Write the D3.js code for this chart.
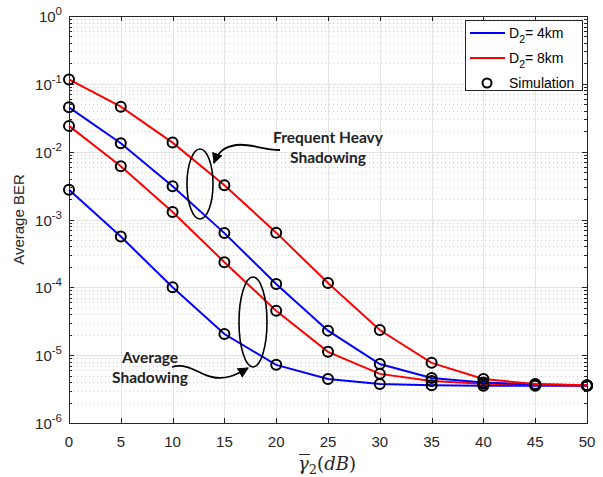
<!DOCTYPE html>
<html>
<head>
<meta charset="utf-8">
<script src="https://cdn.jsdelivr.net/npm/d3@7"></script>
<style>
  body { margin: 0; background: #fff; }
  svg { display: block; }
  .tick-lab { font-family: "Liberation Sans", Arial, sans-serif; font-size: 15px; fill: #262626; }
  .note { font-family: Lato, "Open Sans", sans-serif; font-weight: bold; font-size: 15.5px; fill: #222; }
</style>
</head>
<body>
<div id="vis"></div>
<script>
// data
var snr = [0, 5, 10, 15, 20, 25, 30, 35, 40, 45, 50];
var ber4Avg   = [2.75e-3, 5.6e-4, 1.0e-4, 2.05e-5, 7.2e-6, 4.45e-6, 3.75e-6, 3.6e-6, 3.55e-6, 3.55e-6, 3.55e-6];
var ber8Avg   = [2.4e-2, 6.1e-3, 1.29e-3, 2.35e-4, 4.5e-5, 1.12e-5, 5.3e-6, 4.15e-6, 3.8e-6, 3.65e-6, 3.55e-6];
var ber4Heavy = [4.5e-2, 1.33e-2, 3.1e-3, 6.3e-4, 1.12e-4, 2.3e-5, 7.4e-6, 4.6e-6, 3.95e-6, 3.7e-6, 3.6e-6];
var ber8Heavy = [1.16e-1, 4.6e-2, 1.36e-2, 3.2e-3, 6.4e-4, 1.16e-4, 2.35e-5, 7.7e-6, 4.45e-6, 3.75e-6, 3.6e-6];
var xTicks = [0, 5, 10, 15, 20, 25, 30, 35, 40, 45, 50];
var yExp = [0, -1, -2, -3, -4, -5, -6];

var w = 603, h = 477,
    pL = 69, pR = 587, pT = 16, pB = 423;

var x = d3.scaleLinear().domain([0, 50]).range([pL, pR]);
var y = d3.scaleLog().domain([1e-6, 1]).range([pB, pT]);

var svg = d3.select("#vis").append("svg")
    .attr("width", w)
    .attr("height", h);

// minor grid (horizontal, dotted)
var minors = [];
for (var e = -6; e < 0; e++) {
    for (var m = 2; m <= 9; m++) minors.push(m * Math.pow(10, e));
}
svg.selectAll(".ygridMinor")
    .data(minors)
    .enter().append("line")
    .attr("x1", pL).attr("x2", pR)
    .attr("y1", function(d) { return Math.round(y(d)) + 0.5; })
    .attr("y2", function(d) { return Math.round(y(d)) + 0.5; })
    .attr("stroke", "#cccccc")
    .attr("stroke-dasharray", "1,3");

// major grid
svg.selectAll(".xgrid")
    .data(xTicks.slice(1, -1))
    .enter().append("line")
    .attr("x1", function(d) { return Math.round(x(d)) + 0.5; })
    .attr("x2", function(d) { return Math.round(x(d)) + 0.5; })
    .attr("y1", pT).attr("y2", pB)
    .attr("stroke", "#e3e3e3");
svg.selectAll(".ygrid")
    .data(yExp.slice(1, -1))
    .enter().append("line")
    .attr("x1", pL).attr("x2", pR)
    .attr("y1", function(d) { return Math.round(y(Math.pow(10, d))) + 0.5; })
    .attr("y2", function(d) { return Math.round(y(Math.pow(10, d))) + 0.5; })
    .attr("stroke", "#e3e3e3");

// ticks on all four sides (pointing inward)
var tk = svg.append("g").attr("stroke", "#262626").attr("stroke-width", 1);
xTicks.forEach(function(d) {
    var px = Math.round(x(d)) + 0.5;
    tk.append("line").attr("x1", px).attr("x2", px).attr("y1", pB).attr("y2", pB - 5);
    tk.append("line").attr("x1", px).attr("x2", px).attr("y1", pT).attr("y2", pT + 5);
});
yExp.forEach(function(d) {
    var py = Math.round(y(Math.pow(10, d))) + 0.5;
    tk.append("line").attr("x1", pL).attr("x2", pL + 5).attr("y1", py).attr("y2", py);
    tk.append("line").attr("x1", pR).attr("x2", pR - 5).attr("y1", py).attr("y2", py);
});
minors.forEach(function(d) {
    var py = Math.round(y(d)) + 0.5;
    tk.append("line").attr("x1", pL).attr("x2", pL + 3).attr("y1", py).attr("y2", py);
    tk.append("line").attr("x1", pR).attr("x2", pR - 3).attr("y1", py).attr("y2", py);
});

// axis box
svg.append("rect")
    .attr("x", pL + 0.5).attr("y", pT + 0.5)
    .attr("width", pR - pL).attr("height", pB - pT)
    .attr("fill", "none")
    .attr("stroke", "#262626");

// tick labels
svg.selectAll(".xLabel")
    .data(xTicks)
    .enter().append("text")
    .attr("class", "tick-lab")
    .attr("x", function(d) { return x(d); })
    .attr("y", pB + 24)
    .attr("text-anchor", "middle")
    .text(String);

var yl = svg.selectAll(".yLabel")
    .data(yExp)
    .enter().append("text")
    .attr("class", "tick-lab")
    .attr("x", pL - 7)
    .attr("y", function(d) { return y(Math.pow(10, d)) + 6; })
    .attr("text-anchor", "end");
yl.append("tspan").text("10");
yl.append("tspan")
    .attr("dy", -7)
    .style("font-size", "11.5px")
    .text(function(d) { return d == 0 ? "0" : "-" + (-d); });

// axis titles
svg.append("text")
    .attr("class", "tick-lab")
    .attr("transform", "translate(24," + ((pT + pB) / 2) + ") rotate(-90)")
    .attr("text-anchor", "middle")
    .text("Average BER");

var xt = svg.append("text")
    .attr("x", 327)
    .attr("y", 470)
    .attr("text-anchor", "middle")
    .style("font-family", "'DejaVu Serif', 'Liberation Serif', serif")
    .style("font-size", "18px")
    .style("fill", "#262626");
xt.append("tspan").style("font-style", "italic").text("γ");
xt.append("tspan").attr("dy", 4).style("font-size", "13px").text("2");
xt.append("tspan").attr("dy", -4).text("(");
xt.append("tspan").style("font-style", "italic").text("dB");
xt.append("tspan").text(")");
// overline above gamma
var gBox = xt.select("tspan").node().getBBox();
svg.append("line")
    .attr("x1", gBox.x + 1).attr("x2", gBox.x + gBox.width + 1)
    .attr("y1", 454.5).attr("y2", 454.5)
    .attr("stroke", "#262626");

// curves
var line = d3.line()
    .x(function(d, i) { return x(snr[i]); })
    .y(function(d) { return y(d); });

var series = [
    { v: ber4Avg, c: "#0000ff" },
    { v: ber8Avg, c: "#ff0000" },
    { v: ber4Heavy, c: "#0000ff" },
    { v: ber8Heavy, c: "#ff0000" }
];
series.forEach(function(s) {
    svg.append("path")
        .datum(s.v)
        .attr("d", line)
        .attr("fill", "none")
        .attr("stroke", s.c)
        .attr("stroke-width", 2);
});
series.forEach(function(s) {
    svg.append("g").selectAll("circle")
        .data(s.v)
        .enter().append("circle")
        .attr("cx", function(d, i) { return x(snr[i]); })
        .attr("cy", function(d) { return y(d); })
        .attr("r", 5)
        .attr("fill", "none")
        .attr("stroke", "#000")
        .attr("stroke-width", 2);
});

// annotations
svg.append("ellipse")
    .attr("cx", 200).attr("cy", 184)
    .attr("rx", 13).attr("ry", 35)
    .attr("fill", "none").attr("stroke", "#000").attr("stroke-width", 1.6);
svg.append("ellipse")
    .attr("cx", 253).attr("cy", 322)
    .attr("rx", 14).attr("ry", 45)
    .attr("fill", "none").attr("stroke", "#000").attr("stroke-width", 1.6);

svg.append("defs").append("marker")
    .attr("id", "ah")
    .attr("viewBox", "0 0 10 10")
    .attr("refX", 9).attr("refY", 5)
    .attr("markerWidth", 11).attr("markerHeight", 11)
    .attr("markerUnits", "userSpaceOnUse")
    .attr("orient", "auto")
    .append("path").attr("d", "M0,0L10,5L0,10z").attr("fill", "#000");

svg.append("path")
    .attr("d", "M280,150 C262,150 250,143 236,145 C224,147 218,152 214,163")
    .attr("fill", "none").attr("stroke", "#000").attr("stroke-width", 1.8)
    .attr("marker-end", "url(#ah)");

svg.append("path")
    .attr("d", "M172,367 C188,362 200,375 212,377 C226,380 236,375 248,368")
    .attr("fill", "none").attr("stroke", "#000").attr("stroke-width", 1.8)
    .attr("marker-end", "url(#ah)");

svg.append("text").attr("class", "note").attr("x", 328).attr("y", 143)
    .attr("text-anchor", "middle").text("Frequent Heavy");
svg.append("text").attr("class", "note").attr("x", 328).attr("y", 163)
    .attr("text-anchor", "middle").text("Shadowing");
svg.append("text").attr("class", "note").attr("x", 150).attr("y", 363)
    .attr("text-anchor", "middle").text("Average");
svg.append("text").attr("class", "note").attr("x", 150).attr("y", 383)
    .attr("text-anchor", "middle").text("Shadowing");

// legend
var lg = svg.append("g").attr("transform", "translate(465,20)");
lg.append("rect")
    .attr("x", 0.5).attr("y", 0.5).attr("width", 117).attr("height", 70)
    .attr("fill", "#fff").attr("stroke", "#262626");
var legItems = [
    { c: "#0000ff", label: "= 4km" },
    { c: "#ff0000", label: "= 8km" }
];
legItems.forEach(function(d, i) {
    var yy = 13 + i * 25;
    lg.append("line").attr("x1", 5).attr("x2", 40).attr("y1", yy).attr("y2", yy)
        .attr("stroke", d.c).attr("stroke-width", 2);
    var t = lg.append("text").attr("x", 44).attr("y", yy + 5)
        .style("font-family", "'Liberation Sans', Arial, sans-serif")
        .style("font-size", "14px").style("fill", "#000");
    t.append("tspan").text("D");
    t.append("tspan").attr("dy", 5).style("font-size", "10.5px").text("2");
    t.append("tspan").attr("dy", -5).text(d.label);
});
lg.append("circle").attr("cx", 22).attr("cy", 63).attr("r", 4.5)
    .attr("fill", "none").attr("stroke", "#000").attr("stroke-width", 2);
lg.append("text").attr("x", 44).attr("y", 68)
    .style("font-family", "'Liberation Sans', Arial, sans-serif")
    .style("font-size", "14px").style("fill", "#000")
    .text("Simulation");
</script>
</body>
</html>
